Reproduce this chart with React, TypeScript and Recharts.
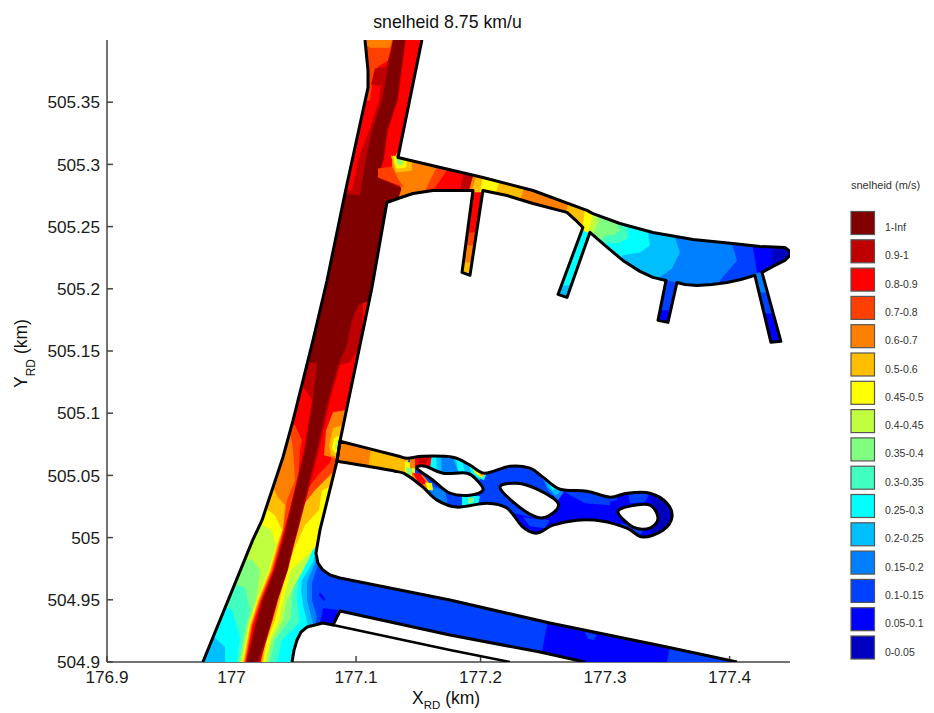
import React from "react";
import { ScatterChart, Scatter, XAxis, YAxis } from "recharts";

type P = number[];
const FONT = "'Liberation Sans', Arial, sans-serif";

const xTicks = [176.9, 177, 177.1, 177.2, 177.3, 177.4];
const yTicks = [504.9, 504.95, 505, 505.05, 505.1, 505.15, 505.2, 505.25, 505.3, 505.35];
const legendLabels = ["1-Inf", "0.9-1", "0.8-0.9", "0.7-0.8", "0.6-0.7", "0.5-0.6", "0.45-0.5", "0.4-0.45", "0.35-0.4", "0.3-0.35", "0.25-0.3", "0.2-0.25", "0.15-0.2", "0.1-0.15", "0.05-0.1", "0-0.05"];
const legendColors = ["#800000", "#BF0000", "#FF0000", "#FF4000", "#FF8000", "#FFBF00", "#FFFF00", "#BFFF40", "#80FF80", "#40FFBF", "#00FFFF", "#00BFFF", "#0080FF", "#0040FF", "#0000FF", "#0000BF"];
const [c100, c90, c80, c70, c60, c50, c45, c40, c35, c30, c25, c20, c15, c10, c05, c00] = legendColors;

// Domain outlines (km, RD coordinates)
const edgeLeft: P[] = [[176.977,504.9],[177.017,504.998],[177.0245,505.014],[177.0413,505.0646],[177.0494,505.0943],[177.0654,505.1586],[177.0767,505.2067],[177.0911,505.2766],[177.1096,505.3617],[177.1096,505.3754],[177.1072,505.4]];
const edgeRight: P[] = [[177.1529,505.4],[177.1337,505.3055],[177.2019,505.2895],[177.2421,505.279],[177.2854,505.263],[177.2903,505.2605],[177.3119,505.2525],[177.3384,505.2453],[177.3706,505.2397],[177.4027,505.2365],[177.4244,505.234],[177.4444,505.2332],[177.4485,505.23],[177.4485,505.2268],[177.4444,505.2228],[177.4348,505.218],[177.426,505.2132],[177.4412,505.1578],[177.4332,505.157],[177.4203,505.2108],[177.4091,505.2075],[177.3979,505.2051],[177.3858,505.2035],[177.3738,505.2027],[177.3641,505.2035],[177.3577,505.2051],[177.3505,505.173],[177.3425,505.1746],[177.3489,505.2067],[177.3384,505.2092],[177.328,505.214],[177.3143,505.2228],[177.2999,505.2349],[177.2878,505.2453],[177.2694,505.1931],[177.2622,505.1955],[177.2822,505.2493],[177.2758,505.2557],[177.2694,505.2614],[177.2421,505.2686],[177.2212,505.275],[177.2019,505.279],[177.1915,505.2108],[177.1851,505.2132],[177.1939,505.279],[177.1618,505.279],[177.1457,505.2766],[177.1337,505.2726],[177.1248,505.2694],[177.1128,505.2011],[177.0871,505.0775],[177.0847,505.0614],[177.071,505.006],[177.0678,504.9875],[177.0694,504.9795],[177.0734,504.9739],[177.0791,504.9699],[177.0871,504.9675],[177.1754,504.9498],[177.2557,504.9313],[177.3497,504.912],[177.4059,504.9]];
const edgeLower: P[] = [[177.0486,504.9],[177.0502,504.9096],[177.0526,504.9177],[177.0558,504.9241],[177.0606,504.9281],[177.0734,504.9313],[177.0815,504.9297],[177.0871,504.941],[177.1754,504.9217],[177.2477,504.908],[177.2838,504.9]];
const edgeStrip: P[] = [[177.0815,504.9297],[177.1754,504.9096],[177.2236,504.9]];
const midHarbour: P[] = [[177.0871,505.0775],[177.1313,505.0662],[177.1409,505.0638],[177.1537,505.0654],[177.1778,505.0646],[177.1915,505.0582],[177.2035,505.0518],[177.2236,505.0574],[177.2397,505.0558],[177.2501,505.0486],[177.2638,505.0389],[177.2854,505.0373],[177.3039,505.0325],[177.3176,505.0357],[177.336,505.0357],[177.3497,505.0277],[177.3537,505.0164],[177.3465,505.006],[177.3304,505.0004],[177.3176,505.0076],[177.2983,505.0132],[177.2774,505.014],[177.2581,505.01],[177.2453,505.0036],[177.234,505.0084],[177.2212,505.0237],[177.2051,505.0277],[177.181,505.0245],[177.165,505.0301],[177.1537,505.0405],[177.1409,505.0502],[177.1313,505.0534],[177.0847,505.0614]];
const hole1: P[] = [[177.1489,505.0558],[177.1554,505.0574],[177.1698,505.0518],[177.1891,505.0518],[177.1971,505.0461],[177.2019,505.0381],[177.1915,505.0341],[177.1754,505.0357],[177.1618,505.0461]];
const hole2: P[] = [[177.2156,505.0405],[177.2292,505.0437],[177.2453,505.0389],[177.2622,505.0277],[177.2557,505.018],[177.2453,505.0164],[177.2292,505.0261]];
const hole3: P[] = [[177.3103,505.0205],[177.32,505.0253],[177.336,505.0261],[177.3425,505.0156],[177.336,505.0076],[177.3224,505.0084]];

const wholePlot: P[] = [[176.9,504.9],[176.9,505.4],[177.4485,505.4],[177.4485,504.9]];
const topOver: P[] = [[177.0871,505.4],[177.1674,505.4],[177.1353,505.271]];

// Main channel: nested speed regions
const b15L: P[] = [[176.9666,504.9]];
const b15R: P[] = [[177.0911,505.0301],[177.0791,504.998],[177.0694,504.9779],[177.0646,504.9634],[177.0646,504.9498],[177.0686,504.9361],[177.067,504.9297],[177.071,504.9177],[177.071,504.9]];
const b20R: P[] = [[177.0911,505.0301],[177.071,504.994],[177.067,504.9795],[177.0606,504.9642],[177.0606,504.9498],[177.0646,504.9337],[177.067,504.9257],[177.071,504.9]];
const b25L: P[] = [[176.9948,504.9],[176.9948,504.912],[176.9843,504.9217],[176.9666,504.9241]];
const b25R: P[] = [[177.0911,505.0301],[177.0694,504.994],[177.0654,504.9803],[177.0566,504.9658],[177.0558,504.9578],[177.0574,504.9458],[177.0606,504.9321],[177.063,504.9177],[177.055,504.9]];
const b30L: P[] = [[177.0044,504.9],[177.0068,504.9201],[177.0004,504.9418],[176.9827,504.9498]];
const b30R: P[] = [[177.0911,505.0301],[177.0678,504.998],[177.063,504.9835],[177.0534,504.9658],[177.0526,504.9498],[177.055,504.9321],[177.0405,504.9177],[177.0365,504.9]];
const b35L: P[] = [[177.006,504.9],[177.0116,504.9297],[177.0148,504.9418],[177.0108,504.9602],[176.9948,504.9634]];
const b35R: P[] = [[177.0911,505.0301],[177.067,505.006],[177.0598,504.9875],[177.0494,504.9675],[177.0486,504.9498],[177.0478,504.9353],[177.0349,504.9177],[177.0309,504.9]];
const b40L: P[] = [[177.0072,504.9],[177.0132,504.9297],[177.0196,504.9498],[177.0229,504.9739],[177.0164,504.9819],[177.0068,504.9835]];
const b40R: P[] = [[177.0911,505.0301],[177.071,505.002],[177.0574,504.9739],[177.0445,504.9498],[177.0413,504.9337],[177.0325,504.9177],[177.0285,504.9]];
const b45L: P[] = [[177.0084,504.9],[177.014,504.9297],[177.0205,504.9498],[177.0301,504.9739],[177.0357,504.994],[177.0325,505.006],[177.0253,505.01],[177.0148,505.0108]];
const b45R: P[] = [[177.0911,505.0301],[177.0726,505.014],[177.0694,504.994],[177.0478,504.9739],[177.0413,504.9498],[177.0381,504.9337],[177.0309,504.9177],[177.0269,504.9]];
const b50L: P[] = [[177.0092,504.9],[177.0148,504.9297],[177.0213,504.9498],[177.0309,504.9739],[177.0365,504.994],[177.0405,505.006],[177.0349,505.018],[177.0269,505.0237],[177.0188,505.0261]];
const b50R: P[] = [[177.0911,505.0461],[177.0726,505.0381],[177.0702,505.022],[177.059,505.01],[177.0518,504.994],[177.0437,504.9739],[177.0389,504.9498],[177.0349,504.9337],[177.0285,504.9177],[177.0253,504.9]];
const b60L: P[] = [[177.01,504.9],[177.0156,504.9297],[177.0221,504.9498],[177.0317,504.9739],[177.0373,504.994],[177.0413,505.006],[177.0429,505.0261],[177.0373,505.0325],[177.0325,505.0421],[177.0229,505.0461]];
const b60R: P[] = [[177.0911,505.0702],[177.0807,505.0702],[177.0751,505.0542],[177.063,505.0381],[177.0558,505.022],[177.0502,504.998],[177.0421,504.9739],[177.0373,504.9498],[177.0333,504.9337],[177.0269,504.9177],[177.0245,504.9]];
const b70L: P[] = [[177.0108,504.9],[177.0164,504.9297],[177.0229,504.9498],[177.0325,504.9739],[177.0381,504.994],[177.0413,505.006],[177.0445,505.0301],[177.051,505.0461],[177.0494,505.0702],[177.0469,505.0863],[177.0309,505.0903]];
const b70R: P[] = [[177.0951,505.1104],[177.0831,505.0542],[177.067,505.0381],[177.0574,505.0261],[177.0486,504.994],[177.0413,504.9739],[177.0365,504.9498],[177.0325,504.9337],[177.0261,504.9177],[177.0237,504.9]];
const b80L: P[] = [[177.0112,504.9],[177.017,504.9297],[177.0237,504.9498],[177.0333,504.9739],[177.0389,504.994],[177.0421,505.006],[177.0534,505.0461],[177.055,505.0702],[177.0566,505.0783],[177.051,505.0903],[177.0389,505.0943]];
const b80R: P[] = [[177.0951,505.1104],[177.0791,505.0606],[177.0694,505.0502],[177.0574,505.0341],[177.0478,504.994],[177.0405,504.9739],[177.0357,504.9498],[177.0317,504.9337],[177.0253,504.9177],[177.0233,504.9]];
const topSpot70: P[] = [[177.1032,505.4],[177.1297,505.4],[177.1256,505.3834],[177.1176,505.3786],[177.1128,505.3633],[177.1112,505.3513],[177.1032,505.3513]];
const topSpot60: P[] = [[177.1032,505.4],[177.1289,505.4],[177.1272,505.3938],[177.1112,505.3938]];
const b90: P[] = [[177.0116,504.9],[177.0188,504.9297],[177.0245,504.9498],[177.0341,504.9739],[177.0397,504.994],[177.0429,505.006],[177.0582,505.0702],[177.0646,505.1104],[177.0566,505.1224],[177.0518,505.1417],[177.071,505.279],[177.0967,505.279],[177.1008,505.2991],[177.1056,505.3152],[177.1112,505.3288],[177.1184,505.3513],[177.12,505.3633],[177.112,505.3641],[177.1152,505.377],[177.124,505.3786],[177.128,505.3914],[177.1297,505.4],[177.1401,505.4],[177.1337,505.3513],[177.1256,505.3272],[177.1224,505.3031],[177.1184,505.2935],[177.1369,505.283],[177.1369,505.2589],[177.1176,505.1987],[177.1152,505.1907],[177.1056,505.189],[177.1048,505.1666],[177.1016,505.1505],[177.0951,505.1409],[177.0871,505.1385],[177.0791,505.1104],[177.0702,505.0702],[177.0534,505.006],[177.0502,504.994],[177.0453,504.9739],[177.0373,504.9498],[177.0317,504.9297],[177.0229,504.9]];
const b100: P[] = [[177.0124,504.9],[177.0196,504.9297],[177.0253,504.9498],[177.0349,504.9739],[177.0405,504.994],[177.0437,505.006],[177.059,505.0702],[177.0654,505.1104],[177.0686,505.1401],[177.0518,505.1417],[177.071,505.279],[177.1032,505.275],[177.1072,505.3007],[177.1128,505.3272],[177.1208,505.3513],[177.1297,505.4],[177.1393,505.4],[177.1329,505.3513],[177.1248,505.3272],[177.1216,505.3031],[177.1176,505.2895],[177.1369,505.2806],[177.1369,505.2589],[177.1176,505.1987],[177.1144,505.1923],[177.1016,505.1867],[177.0967,505.1746],[177.0927,505.1546],[177.0855,505.1385],[177.0775,505.1104],[177.0686,505.0702],[177.0526,505.006],[177.0494,504.994],[177.0445,504.9739],[177.0365,504.9498],[177.0309,504.9297],[177.0213,504.9]];
const mouth60: P[] = [[177.0911,505.1024],[177.0815,505.1008],[177.0759,505.0863],[177.0743,505.0662],[177.0887,505.0622]];
const mouth50: P[] = [[177.0887,505.0903],[177.0815,505.0879],[177.0783,505.0743],[177.0799,505.0662],[177.0871,505.0646]];
const mouth45: P[] = [[177.0871,505.0823],[177.0823,505.0799],[177.0807,505.0718],[177.0831,505.0678],[177.0863,505.0686]];
const mouth40: P[] = [[177.0863,505.0791],[177.0839,505.0775],[177.0831,505.0718],[177.0855,505.0702]];

// Upper harbour: speed boundaries along the basin
const harbourMouth: P[] = [[177.1345,505.3111],[177.1289,505.3031],[177.1289,505.2935],[177.1369,505.2806],[177.1321,505.2662],[177.1754,505.2509]];
const farAnchor: P[] = [[177.336,505.1907]];
const h00: P[] = [[177.4485,505.1827],[177.4485,505.271]];
const h05: P[] = [[177.434,505.1987],[177.434,505.2188],[177.4348,505.2349],[177.4364,505.2509]];
const h10: P[] = [[177.4203,505.1947],[177.422,505.2132],[177.4187,505.2332],[177.4179,505.2509]];
const h15: P[] = [[177.3882,505.1907],[177.3922,505.2067],[177.4059,505.2228],[177.4019,505.2365],[177.3987,505.2509]];
const h20: P[] = [[177.34,505.1947],[177.344,505.2092],[177.3537,505.2164],[177.3601,505.2292],[177.3561,505.2413],[177.3521,505.2549]];
const h25: P[] = [[177.316,505.2148],[177.3135,505.2268],[177.328,505.2292],[177.336,505.2349],[177.3344,505.2453],[177.332,505.2589]];
const h30: P[] = [[177.2959,505.2308],[177.3023,505.2373],[177.3103,505.2365],[177.3184,505.2405],[177.3184,505.2469],[177.316,505.2614]];
const h35: P[] = [[177.2935,505.2349],[177.2999,505.2429],[177.3063,505.2429],[177.3119,505.2469],[177.3103,505.2525],[177.3079,505.2646]];
const h40: P[] = [[177.2895,505.2389],[177.2919,505.2485],[177.2943,505.2533],[177.2935,505.2589],[177.2919,505.271]];
const h45: P[] = [[177.2862,505.2429],[177.2878,505.2509],[177.2903,505.2605],[177.2919,505.271]];
const h50a: P[] = [[177.2814,505.2453],[177.2822,505.2517],[177.2838,505.263],[177.2854,505.2726]];
const h60a: P[] = [[177.2638,505.2509],[177.2678,505.2605],[177.2702,505.267],[177.2718,505.279]];
const h50b: P[] = [[177.2276,505.2589],[177.2316,505.271],[177.2357,505.283],[177.2381,505.2951]];
const h45b: P[] = [[177.2075,505.263],[177.2116,505.275],[177.2156,505.2887],[177.2172,505.2991]];
const h50c: P[] = [[177.1979,505.267],[177.1995,505.2774],[177.2027,505.2935],[177.2043,505.3031]];
const h60b: P[] = [[177.1915,505.267],[177.1931,505.279],[177.1971,505.2935],[177.1979,505.3031]];
const h90: P[] = [[177.1875,505.267],[177.1907,505.279],[177.1947,505.2935],[177.1963,505.3031]];
const h80: P[] = [[177.1819,505.267],[177.1835,505.279],[177.1867,505.2935],[177.1875,505.3031]];
const h70: P[] = [[177.1618,505.267],[177.1618,505.279],[177.173,505.2951],[177.1754,505.3071]];
const h60c: P[] = [[177.1513,505.267],[177.1554,505.279],[177.1642,505.2967],[177.1658,505.3071]];
const uMouth70: P[] = [[177.1176,505.2967],[177.1289,505.2983],[177.1337,505.2887],[177.1385,505.2814],[177.1176,505.2895]];
const uMouth50: P[] = [[177.128,505.3071],[177.1449,505.3031],[177.1449,505.2951],[177.1321,505.2935]];
const uMouth45: P[] = [[177.1297,505.3071],[177.1409,505.3031],[177.1401,505.2975],[177.1321,505.2967]];
const uMouth40: P[] = [[177.1321,505.3055],[177.1385,505.3031],[177.1377,505.2991],[177.1329,505.2991]];
const uMouth35: P[] = [[177.1329,505.3047],[177.1369,505.3023],[177.1353,505.2999],[177.1337,505.3007]];

// Side arms of the upper harbour
const arm1Base: P[] = [[177.1899,505.2774],[177.2043,505.2774],[177.1947,505.2067],[177.1802,505.2067]];
const arm1End: P[] = [[177.1794,505.2212],[177.1995,505.2212],[177.1979,505.2067],[177.1794,505.2067]];
const arm1Mid: P[] = [[177.1899,505.2774],[177.2043,505.2774],[177.1979,505.2349],[177.1835,505.2349]];
const arm1Top: P[] = [[177.1899,505.2774],[177.2043,505.2774],[177.1995,505.2453],[177.1851,505.2453]];
const arm2Base: P[] = [[177.2806,505.2477],[177.2878,505.2445],[177.2718,505.1907],[177.2573,505.1923]];
const arm2End: P[] = [[177.2605,505.2027],[177.2766,505.2027],[177.2718,505.1907],[177.2573,505.1923]];
const arm3Base: P[] = [[177.3473,505.2075],[177.3593,505.2043],[177.3537,505.1706],[177.34,505.173]];
const arm3End: P[] = [[177.3417,505.1827],[177.3561,505.1827],[177.3537,505.1706],[177.34,505.173]];
const arm4Base: P[] = [[177.4187,505.2116],[177.4276,505.214],[177.4444,505.1546],[177.4308,505.1546]];
const arm4End: P[] = [[177.4252,505.1802],[177.4388,505.1802],[177.4444,505.1546],[177.4308,505.1546]];
const arm4Top: P[] = [[177.4187,505.2116],[177.4276,505.214],[177.4324,505.1971],[177.422,505.1971]];

// Lower channel patches
const lowSlow: P[] = [[177.2541,504.9337],[177.3521,504.9137],[177.3497,504.9],[177.2477,504.9]];
const lowPatch: P[] = [[177.2838,504.9241],[177.2935,504.9217],[177.291,504.9177],[177.2862,504.9185]];
const lowCorner: P[] = [[177.0734,504.9434],[177.0855,504.9418],[177.0823,504.9297],[177.071,504.9305]];
const lowDot: P[] = [[177.071,504.9562],[177.0759,504.9498],[177.0743,504.949],[177.0702,504.9538]];

// Middle harbour patches
const mStraight50: P[] = [[177.0831,505.0863],[177.1433,505.0702],[177.1409,505.0461],[177.0791,505.0542]];
const mStraight60: P[] = [[177.0831,505.0863],[177.1128,505.0783],[177.1096,505.0542],[177.0791,505.0542]];
const mWest10: P[] = [[177.1433,505.0702],[177.2517,505.0582],[177.2654,505.0381],[177.2541,505.0325],[177.2517,505.014],[177.2156,505.022],[177.1594,505.022],[177.1393,505.0461]];
const mUp15: P[] = [[177.1578,505.0702],[177.2011,505.0622],[177.1995,505.0461],[177.1594,505.0478]];
const mLow15: P[] = [[177.1578,505.0421],[177.1714,505.0381],[177.1738,505.0261],[177.1634,505.0277]];
const mUp20a: P[] = [[177.1578,505.0702],[177.1682,505.0702],[177.169,505.0502],[177.1594,505.0518]];
const mUp20b: P[] = [[177.1754,505.0702],[177.1915,505.0662],[177.1995,505.0461],[177.1835,505.0494]];
const mUp25a: P[] = [[177.1594,505.0686],[177.1642,505.0686],[177.165,505.0502],[177.1602,505.0542]];
const mUp25b: P[] = [[177.1794,505.0686],[177.1851,505.0662],[177.1875,505.0502],[177.1819,505.0542]];
const mNeck25: P[] = [[177.1899,505.0606],[177.2059,505.0542],[177.2027,505.0461],[177.1931,505.0502]];
const mNeck45: P[] = [[177.1931,505.0582],[177.2043,505.0526],[177.2011,505.0478],[177.1947,505.0526]];
const mNeck60: P[] = [[177.1963,505.0566],[177.2043,505.0518],[177.2011,505.0494],[177.1979,505.0526]];
const mJoin45: P[] = [[177.1393,505.0606],[177.1473,505.0606],[177.1473,505.0478],[177.1393,505.0478]];
const mJoin35: P[] = [[177.1401,505.0566],[177.1449,505.0558],[177.1449,505.051],[177.1409,505.051]];
const mTop60: P[] = [[177.1433,505.0686],[177.1497,505.0686],[177.1489,505.0558],[177.1433,505.0558]];
const mTop80: P[] = [[177.1473,505.0686],[177.161,505.0686],[177.1594,505.0558],[177.1473,505.0566]];
const mTop90: P[] = [[177.1497,505.0638],[177.1578,505.0638],[177.1562,505.0598],[177.1505,505.0598]];
const mLow60: P[] = [[177.1449,505.0526],[177.1537,505.0502],[177.161,505.0413],[177.1554,505.0381],[177.1449,505.0461]];
const mLow80: P[] = [[177.1457,505.0518],[177.1513,505.0518],[177.157,505.0437],[177.1513,505.0421]];
const mLow45: P[] = [[177.1554,505.0445],[177.161,505.0437],[177.1618,505.0381],[177.1578,505.0381]];
const mS25: P[] = [[177.1851,505.0341],[177.1995,505.0333],[177.1979,505.0261],[177.1851,505.0261]];
const mS35: P[] = [[177.1899,505.0325],[177.1947,505.0317],[177.1939,505.0277],[177.1899,505.0277]];
const mE15: P[] = [[177.2477,505.0526],[177.2678,505.0381],[177.2622,505.0301],[177.2541,505.0381]];
const mE20: P[] = [[177.2517,505.0478],[177.2654,505.0381],[177.2605,505.0341],[177.2541,505.0405]];
const mE25: P[] = [[177.2541,505.0453],[177.2605,505.0397],[177.2581,505.0381]];
const mEnd00: P[] = [[177.3376,505.0421],[177.3601,505.0381],[177.3601,504.998],[177.336,504.998],[177.3384,505.018]];
const mP1: P[] = [[177.2678,505.0365],[177.2878,505.0381],[177.3039,505.0325],[177.3039,505.0261],[177.2838,505.0277]];
const mP2: P[] = [[177.2983,505.0341],[177.3095,505.0357],[177.3095,505.0301],[177.2999,505.0285]];
const mP3: P[] = [[177.3184,505.0357],[177.336,505.0365],[177.332,505.0285],[177.32,505.0277]];
const mP4: P[] = [[177.3119,505.0116],[177.332,505.0076],[177.328,505.002],[177.316,505.006]];
const mP5: P[] = [[177.234,505.0164],[177.2557,505.014],[177.2517,505.0076],[177.2397,505.0092]];

type Layer = { pts: P[]; fill?: string; clip?: string; stroke?: number; closed?: boolean; defines?: string; curve?: "chain" | "loop" };
const band = (l: P[], r: P[]) => [...l, ...topOver, ...r];
const basin = (b: P[]) => [...harbourMouth, ...b];
const farBasin = (b: P[]) => [...harbourMouth, ...farAnchor, ...b];

const layers: Layer[] = [
  { pts: [...edgeLeft, ...edgeRight, ...[...edgeLower].reverse()], defines: "mainClip" },
  { pts: midHarbour, defines: "midClip", curve: "chain" },
  ...([
    [wholePlot, c10], [band(b15L, b15R), c15], [band(b15L, b20R), c20], [band(b25L, b25R), c25], [band(b30L, b30R), c30],
    [band(b35L, b35R), c35], [band(b40L, b40R), c40], [band(b45L, b45R), c45], [band(b50L, b50R), c50], [band(b60L, b60R), c60],
    [band(b70L, b70R), c70], [band(b80L, b80R), c80], [topSpot70, c70], [topSpot60, c60], [b90, c90], [b100, c100],
    [mouth60, c60], [mouth50, c50], [mouth45, c45], [mouth40, c40],
    [farBasin(h00), c00], [farBasin(h05), c05], [farBasin(h10), c10], [farBasin(h15), c15], [farBasin(h20), c20],
    [basin(h25), c25], [basin(h30), c30], [basin(h35), c35], [basin(h40), c40], [basin(h45), c45], [basin(h50a), c50],
    [basin(h60a), c60], [basin(h50b), c50], [basin(h45b), c45], [basin(h50c), c50], [basin(h60b), c60], [basin(h90), c90],
    [basin(h80), c80], [basin(h70), c70], [basin(h60c), c60],
    [uMouth70, c70], [uMouth50, c50], [uMouth45, c45], [uMouth40, c40], [uMouth35, c35],
    [arm1Base, c60], [arm1End, c50], [arm1Mid, c70], [arm1Top, c80],
    [arm2Base, c25], [arm2End, c20], [arm3Base, c10], [arm3End, c05], [arm4Base, c10], [arm4End, c05], [arm4Top, c15],
    [lowSlow, c05], [lowPatch, c10], [lowCorner, c05], [lowDot, c05],
  ] as [P[], string][]).map(([pts, fill]) => ({ pts, fill, clip: "mainClip" })),
  ...([
    [wholePlot, c05], [mStraight50, c50], [mStraight60, c60], [mWest10, c10], [mUp15, c15], [mLow15, c15], [mUp20a, c20], [mUp20b, c20],
    [mUp25a, c25], [mUp25b, c25], [mNeck25, c25], [mNeck45, c45], [mNeck60, c60], [mJoin45, c45], [mJoin35, c35], [mTop60, c60],
    [mTop80, c80], [mTop90, c90], [mLow60, c60], [mLow80, c80], [mLow45, c45], [mS25, c25], [mS35, c35], [mE15, c15], [mE20, c20], [mE25, c25],
    [mEnd00, c00], [mP1, c10], [mP2, c10], [mP3, c10], [mP4, c10], [mP5, c10],
  ] as [P[], string][]).map(([pts, fill]) => ({ pts, fill, clip: "midClip" })),
  { pts: edgeLeft, stroke: 3 },
  { pts: edgeRight, stroke: 3 },
  { pts: edgeLower, stroke: 3 },
  { pts: edgeStrip, stroke: 2.5 },
  { pts: midHarbour, stroke: 3, closed: true, curve: "chain" },
  { pts: hole1, stroke: 3, closed: true, fill: "#ffffff", curve: "loop" },
  { pts: hole2, stroke: 3, closed: true, fill: "#ffffff", curve: "loop" },
  { pts: hole3, stroke: 3, closed: true, fill: "#ffffff", curve: "loop" },
];

const NoDot = () => null;

type XY = { x: number; y: number };

function pathOf(pts: XY[], curve?: "chain" | "loop") {
  const f = (p: XY) => `${p.x.toFixed(2)},${p.y.toFixed(2)}`;
  if (!curve) return "M" + pts.map(f).join("L");
  const n = pts.length;
  const at = (i: number) => (curve === "loop" ? pts[(i + n) % n] : pts[Math.max(0, Math.min(n - 1, i))]);
  const last = curve === "loop" ? n : n - 1;
  let d = "M" + f(pts[0]);
  for (let i = 0; i < last; i++) {
    const p0 = at(i - 1), p1 = at(i), p2 = at(i + 1), p3 = at(i + 2);
    const c1 = { x: p1.x + (p2.x - p0.x) / 6, y: p1.y + (p2.y - p0.y) / 6 };
    const c2 = { x: p2.x - (p3.x - p1.x) / 6, y: p2.y - (p3.y - p1.y) / 6 };
    d += "C" + f(c1) + " " + f(c2) + " " + f(p2);
  }
  return d;
}

function drawLayer(layer: Layer) {
  return (props: any) => {
    const d = pathOf(props.points || [], layer.curve);
    if (layer.defines) {
      return (
        <clipPath id={layer.defines}>
          <path d={d + "Z"} />
        </clipPath>
      );
    }
    if (layer.stroke) {
      return (
        <path d={d + (layer.closed ? "Z" : "")} fill={layer.fill || "none"} stroke="#000" strokeWidth={layer.stroke} strokeLinejoin="round" />
      );
    }
    return <path d={d + "Z"} fill={layer.fill} stroke="none" clipPath={`url(#${layer.clip})`} />;
  };
}

export default function App() {
  return (
    <div style={{ position: "absolute", left: 0, top: 0, width: 934, height: 713, background: "#fff", overflow: "hidden" }}>
      <ScatterChart width={934} height={713} margin={{ top: 40, right: 144, bottom: 0, left: 0 }}>
        <XAxis
          type="number"
          dataKey="x"
          domain={[176.9, 177.4485]}
          allowDataOverflow
          ticks={xTicks}
          interval={0}
          height={51}
          tickSize={-6}
          tickMargin={15}
          stroke="#444"
          strokeWidth={1.5}
          tick={{ fontSize: 17.2, fill: "#1a1a1a", fontFamily: FONT }}
        />
        <YAxis
          type="number"
          dataKey="y"
          domain={[504.9, 505.4]}
          allowDataOverflow
          ticks={yTicks}
          interval={0}
          width={107}
          tickSize={-6}
          tickMargin={13}
          stroke="#444"
          strokeWidth={1.5}
          tick={{ fontSize: 17.2, fill: "#1a1a1a", fontFamily: FONT }}
        />
        {layers.map((layer, i) => (
          <Scatter
            key={i}
            data={layer.pts.map((p) => ({ x: p[0], y: p[1] }))}
            line={drawLayer(layer)}
            shape={NoDot}
            fill="none"
            isAnimationActive={false}
          />
        ))}
        <text x={447.5} y={27.5} textAnchor="middle" fontFamily={FONT} fontSize={17.7} fill="#111">snelheid 8.75 km/u</text>
        <text x={412} y={703.5} fontFamily={FONT} fontSize={17.5} fill="#111">
          X<tspan fontSize={11.5} dy={5.5}>RD</tspan><tspan dy={-5.5}> (km)</tspan>
        </text>
        <text transform="translate(27,388) rotate(-90)" fontFamily={FONT} fontSize={17.5} fill="#111">
          Y<tspan fontSize={12} dy={8}>RD</tspan><tspan dy={-8}> (km)</tspan>
        </text>
        <text x={851} y={189} fontFamily={FONT} fontSize={11} fill="#333">snelheid (m/s)</text>
        {legendLabels.map((label, i) => (
          <g key={label}>
            <rect x={851} y={211.5 + i * 28.3} width={23.5} height={23} fill={legendColors[i]} stroke="#555" strokeWidth={1.2} />
            <text x={885} y={231 + i * 28.3} fontFamily={FONT} fontSize={10.5} fill="#333">{label}</text>
          </g>
        ))}
      </ScatterChart>
    </div>
  );
}
